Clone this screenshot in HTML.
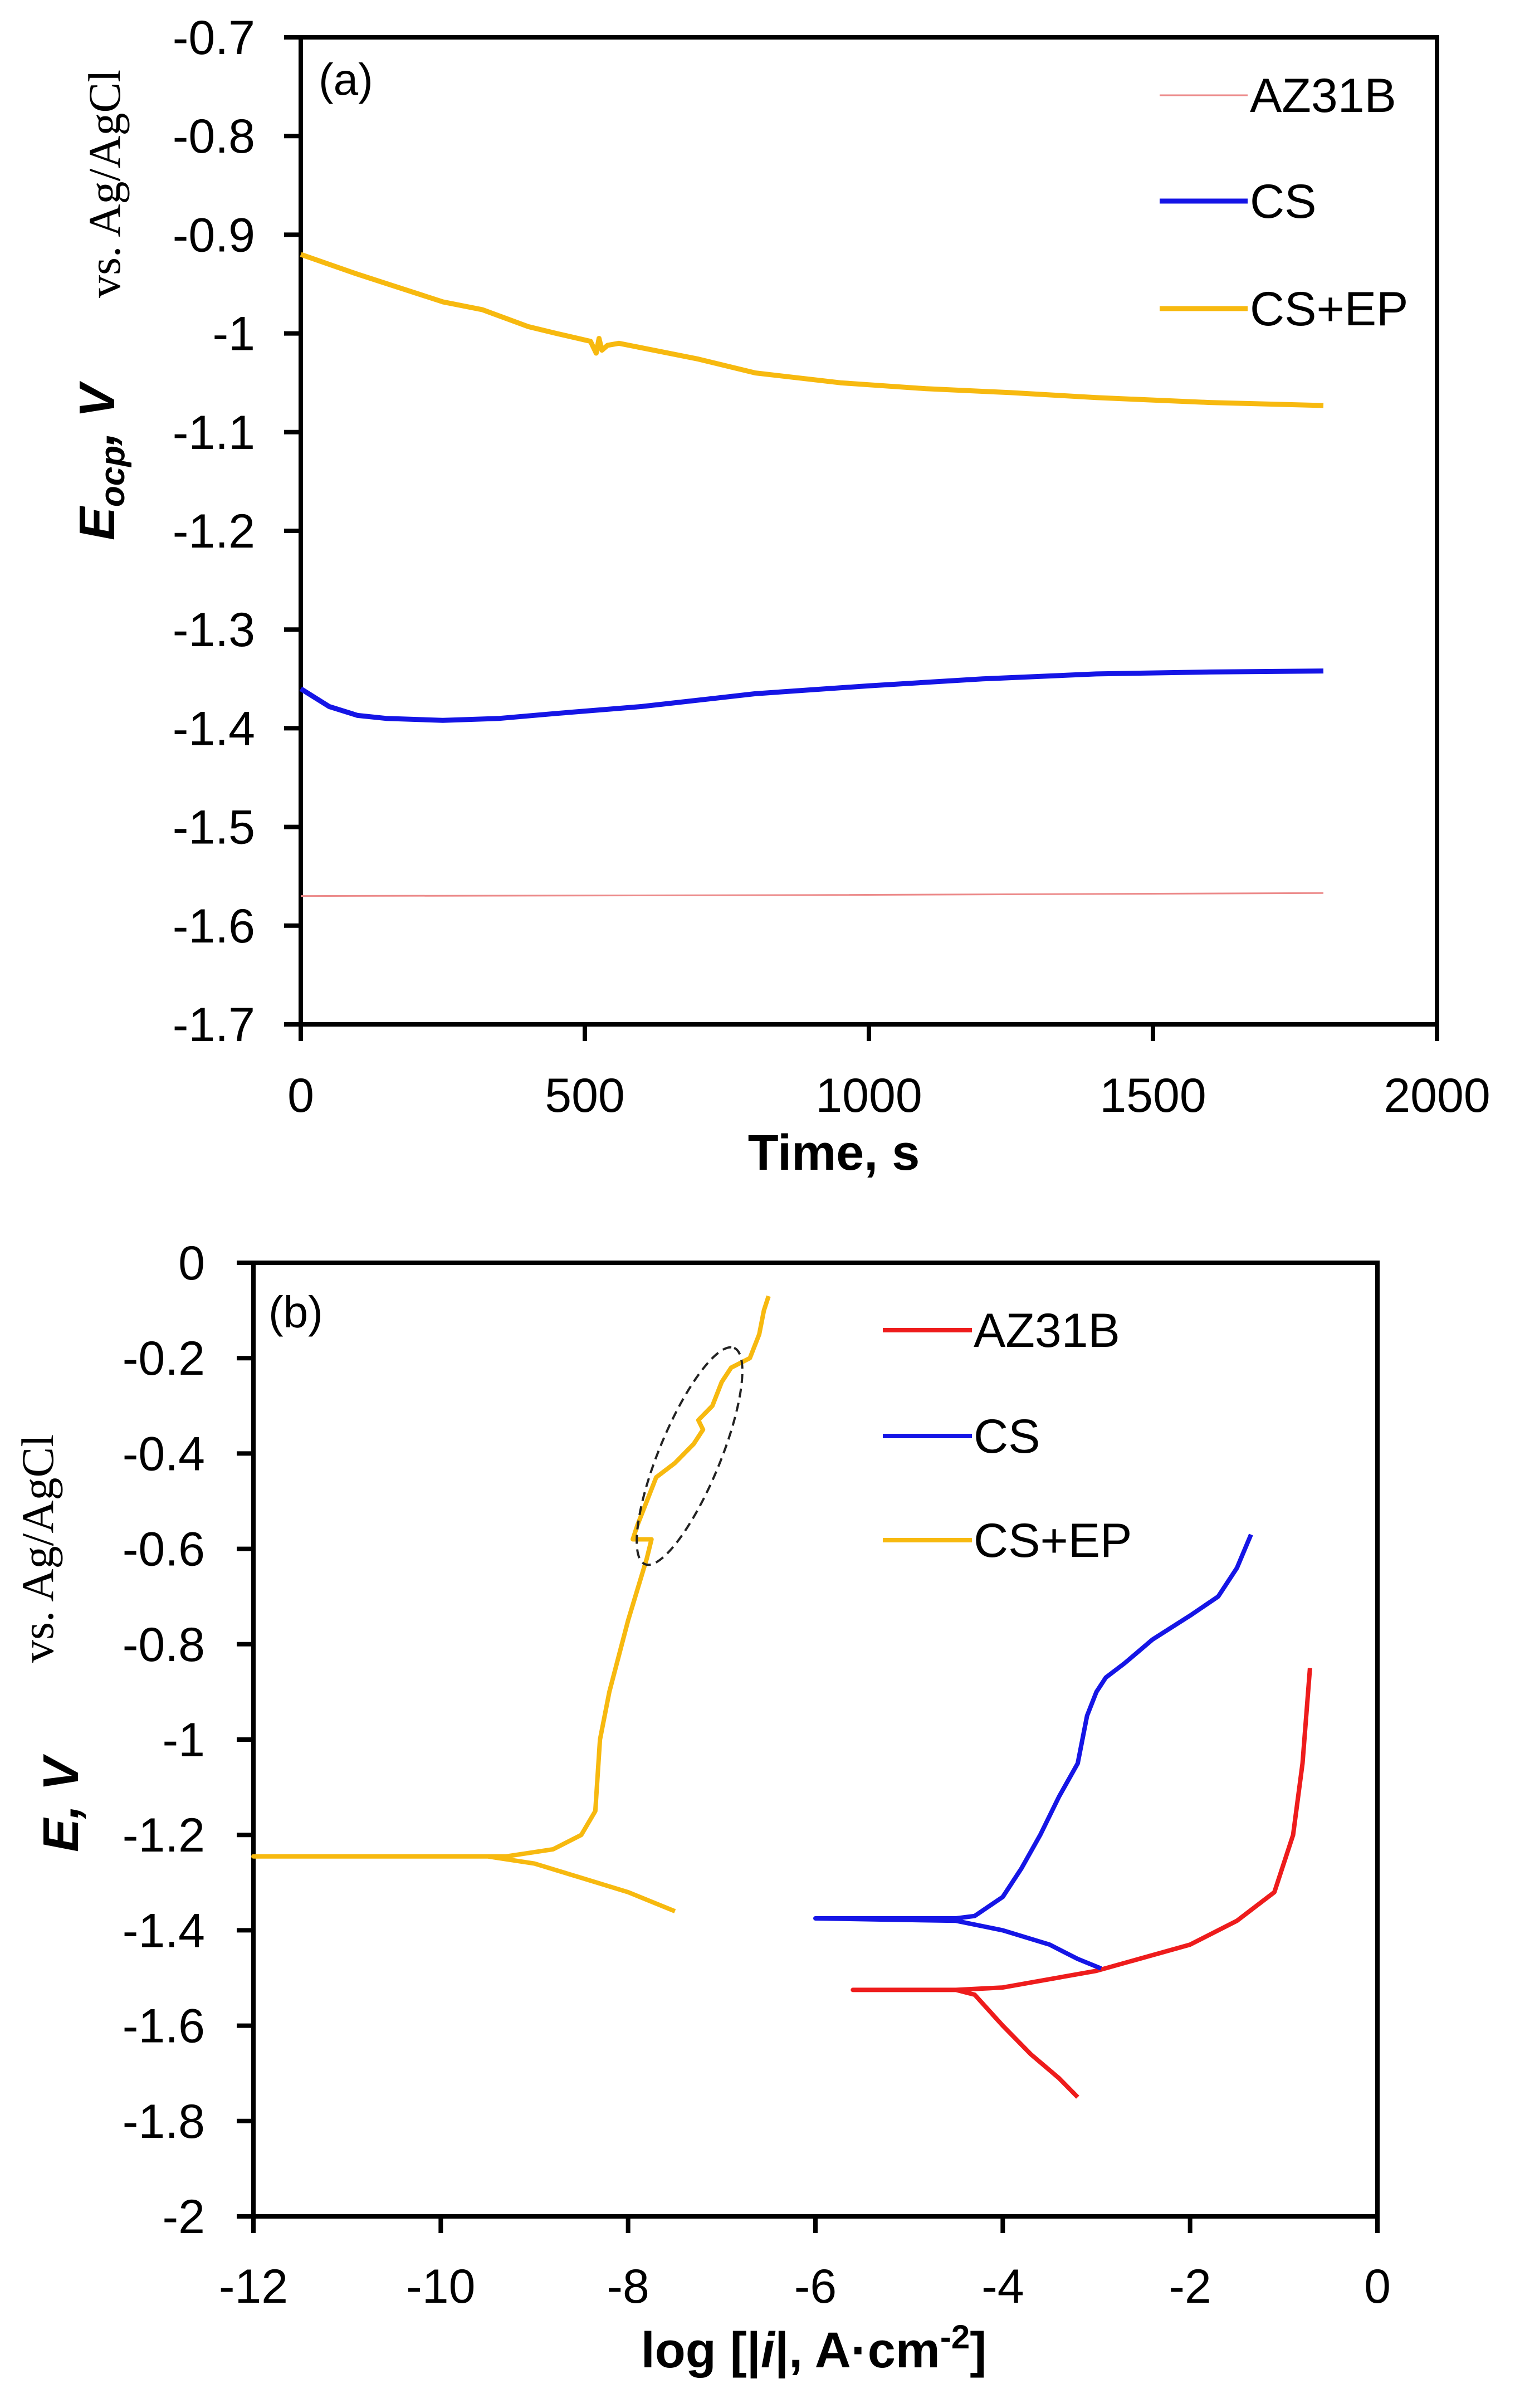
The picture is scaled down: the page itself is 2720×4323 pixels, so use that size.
<!DOCTYPE html>
<html><head><meta charset="utf-8"><style>html,body{margin:0;padding:0;background:#fff}svg{display:block}</style></head>
<body>
<svg id="fig" xmlns="http://www.w3.org/2000/svg" width="2720" height="4323" viewBox="0 0 2720 4323">
<g id="pa"></g>
<g id="pb"></g>
</svg>
<script>
const NS='http://www.w3.org/2000/svg';
// Panel A data
const aTicksX=[0,500,1000,1500,2000];
const aTicksY=[-0.7,-0.8,-0.9,-1,-1.1,-1.2,-1.3,-1.4,-1.5,-1.6,-1.7];
const aTimeEP=[0,100,250,320,400,450,510,520,525,530,540,560,700,800,950,1100,1250,1400,1600,1800];
const aValEP=[-0.92,-0.94,-0.968,-0.976,-0.993,-1.0,-1.008,-1.02,-1.005,-1.017,-1.012,-1.01,-1.026,-1.04,-1.05,-1.056,-1.06,-1.065,-1.07,-1.073];
const aTimeCS=[0,50,100,150,250,350,450,600,800,1000,1200,1400,1600,1800];
const aValCS=[-1.36,-1.378,-1.387,-1.39,-1.392,-1.39,-1.385,-1.378,-1.365,-1.357,-1.35,-1.345,-1.343,-1.342];
const aTimeAZ=[0,900,1800];
const aValAZ=[-1.57,-1.569,-1.567];
// Panel B data
const bTicksX=[-12,-10,-8,-6,-4,-2,0];
const bTicksY=[0,-0.2,-0.4,-0.6,-0.8,-1,-1.2,-1.4,-1.6,-1.8,-2];
const bEPx=[-7.5,-8,-8.5,-9,-9.5,-12,-9.3,-8.8,-8.5,-8.35,-8.3,-8.2,-8.0,-7.8,-7.75,-7.95,-7.9,-7.8,-7.7,-7.5,-7.3,-7.2,-7.25,-7.1,-7.0,-6.9,-6.7,-6.6,-6.55,-6.5];
const bEPy=[-1.36,-1.32,-1.29,-1.26,-1.245,-1.245,-1.245,-1.23,-1.2,-1.15,-1.0,-0.9,-0.75,-0.62,-0.58,-0.58,-0.55,-0.5,-0.45,-0.42,-0.38,-0.35,-0.33,-0.3,-0.25,-0.22,-0.2,-0.15,-0.1,-0.07];
const bCSx=[-2.95,-3.2,-3.5,-4,-4.5,-6,-4.5,-4.3,-4,-3.8,-3.6,-3.4,-3.2,-3.1,-3.0,-2.9,-2.7,-2.4,-2.0,-1.7,-1.5,-1.35];
const bCSy=[-1.48,-1.46,-1.43,-1.4,-1.38,-1.375,-1.375,-1.37,-1.33,-1.27,-1.2,-1.12,-1.05,-0.95,-0.9,-0.87,-0.84,-0.79,-0.74,-0.7,-0.64,-0.57];
const bAZx=[-3.2,-3.4,-3.7,-4.0,-4.3,-4.5,-5.6,-4.5,-4,-3,-2,-1.5,-1.1,-0.9,-0.8,-0.72];
const bAZy=[-1.75,-1.71,-1.66,-1.6,-1.535,-1.525,-1.525,-1.525,-1.52,-1.485,-1.43,-1.38,-1.32,-1.2,-1.05,-0.85];

function el(p,tag,attrs,text){const e=document.createElementNS(NS,tag);for(const k in attrs)e.setAttribute(k,attrs[k]);if(text!==undefined)e.textContent=text;p.appendChild(e);return e;}
function path(xs,ys,sx,sy){return xs.map((v,i)=>(i?'L':'M')+sx(v).toFixed(1)+','+sy(ys[i]).toFixed(1)).join('');}
const F='"Liberation Sans", Arial, sans-serif';

// ---- Panel A ----
const pa=document.getElementById('pa');
const aL=540,aR=2580,aT=67,aB=1839;
const ax=v=>aL+(v-0)/2000*(aR-aL);
const ay=v=>aT+(v-(-0.7))/(-1.0)*(aB-aT);
let g=el(pa,'g',{});

aTicksY.forEach(v=>{const y=ay(v);el(g,'line',{x1:aL-30,x2:aL,y1:y,y2:y,stroke:'#000','stroke-width':8});
 const t=el(g,'text',{x:458,y:y+30,'text-anchor':'end','font-family':F,'font-size':86,fill:'#000'},String(v));
 });
g=el(pa,'g',{});

aTicksX.forEach(v=>{const x=ax(v);el(g,'line',{x1:x,x2:x,y1:aB,y2:aB+30,stroke:'#000','stroke-width':8});
 const t=el(g,'text',{x:x,y:1996,'text-anchor':'middle','font-family':F,'font-size':86,fill:'#000'},String(v));
 });
let r=el(pa,'rect',{x:aL,y:aT,width:aR-aL,height:aB-aT,fill:'none',stroke:'#000','stroke-width':8});

let s;
s=el(pa,'path',{d:path(aTimeAZ,aValAZ,ax,ay),fill:'none',stroke:'#ec8a8a','stroke-width':3});

s=el(pa,'path',{d:path(aTimeCS,aValCS,ax,ay),fill:'none',stroke:'#1515e6','stroke-width':9,'stroke-linejoin':'round'});

s=el(pa,'path',{d:path(aTimeEP,aValEP,ax,ay),fill:'none',stroke:'#f7b90f','stroke-width':9,'stroke-linejoin':'round'});

let t=el(pa,'text',{x:572,y:170,'font-family':F,'font-size':80,fill:'#000'},'(a)');

[['AZ31B','#ec8a8a',3,171],['CS','#1515e6',9,361],['CS+EP','#f7b90f',9,554]].forEach(([n,c,w,y])=>{
 const lg=el(pa,'g',{});
 el(lg,'line',{x1:2082,x2:2240,y1:y,y2:y,stroke:c,'stroke-width':w});
 el(lg,'text',{x:2244,y:y+30,'font-family':F,'font-size':86,fill:'#000'},n);});
t=el(pa,'text',{x:1497,y:2100,'text-anchor':'middle','font-family':F,'font-size':90,'font-weight':'bold',fill:'#000'},'Time, s');

let yt=el(pa,'text',{transform:'translate(205,830) rotate(-90)','text-anchor':'middle','font-family':F,'font-size':90,'font-weight':'bold','font-style':'italic',fill:'#000'});

yt.innerHTML='E<tspan font-size="62" dy="18">ocp</tspan><tspan dy="-18">, V</tspan>';
t=el(pa,'text',{transform:'translate(215,330) rotate(-90)','text-anchor':'middle','font-family':'"Liberation Serif", serif','font-size':82,fill:'#000'},'vs. Ag/AgCl');


// ---- Panel B ----
const pb=document.getElementById('pb');
const bL=455,bR=2473,bT=2267,bB=3979;
const bx=v=>bL+(v+12)/12*(bR-bL);
const by=v=>bT+(v-0)/(-2)*(bB-bT);
g=el(pb,'g',{});

bTicksY.forEach(v=>{const y=by(v);el(g,'line',{x1:bL-30,x2:bL,y1:y,y2:y,stroke:'#000','stroke-width':8});
 const tt=el(g,'text',{x:368,y:y+30,'text-anchor':'end','font-family':F,'font-size':86,fill:'#000'},String(v));
 });
g=el(pb,'g',{});

bTicksX.forEach(v=>{const x=bx(v);el(g,'line',{x1:x,x2:x,y1:bB,y2:bB+30,stroke:'#000','stroke-width':8});
 const tt=el(g,'text',{x:x,y:4134,'text-anchor':'middle','font-family':F,'font-size':86,fill:'#000'},String(v));
 });
r=el(pb,'rect',{x:bL,y:bT,width:bR-bL,height:bB-bT,fill:'none',stroke:'#000','stroke-width':8});

s=el(pb,'path',{d:path(bAZx,bAZy,bx,by),fill:'none',stroke:'#ee1c1c','stroke-width':8,'stroke-linejoin':'round'});

s=el(pb,'path',{d:path(bCSx,bCSy,bx,by),fill:'none',stroke:'#1515e6','stroke-width':8,'stroke-linejoin':'round'});

s=el(pb,'path',{d:path(bEPx,bEPy,bx,by),fill:'none',stroke:'#f7b90f','stroke-width':8,'stroke-linejoin':'round'});

let e=el(pb,'ellipse',{cx:1238,cy:2614,rx:210,ry:55,transform:'rotate(-67.6 1238 2614)',fill:'none',stroke:'#222','stroke-width':4,'stroke-dasharray':'16 10'});

t=el(pb,'text',{x:482,y:2383,'font-family':F,'font-size':80,fill:'#000'},'(b)');

[['AZ31B','#ee1c1c',2388],['CS','#1515e6',2578],['CS+EP','#f7b90f',2765]].forEach(([n,c,y])=>{
 const lg=el(pb,'g',{});
 el(lg,'line',{x1:1585,x2:1745,y1:y,y2:y,stroke:c,'stroke-width':8});
 el(lg,'text',{x:1748,y:y+30,'font-family':F,'font-size':86,fill:'#000'},n);});
let xt=el(pb,'text',{x:1461,y:4250,'text-anchor':'middle','font-family':F,'font-size':90,'font-weight':'bold',fill:'#000'});

xt.innerHTML='log [|<tspan font-style="italic">i</tspan>|, A·cm<tspan font-size="60" dy="-34">-2</tspan><tspan dy="34">]</tspan>';
t=el(pb,'text',{transform:'translate(140,3240) rotate(-90)','text-anchor':'middle','font-family':F,'font-size':90,'font-weight':'bold','font-style':'italic',fill:'#000'},'E, V');

t=el(pb,'text',{transform:'translate(95,2780) rotate(-90)','text-anchor':'middle','font-family':'"Liberation Serif", serif','font-size':82,fill:'#000'},'vs. Ag/AgCl');

</script>
</body></html>
